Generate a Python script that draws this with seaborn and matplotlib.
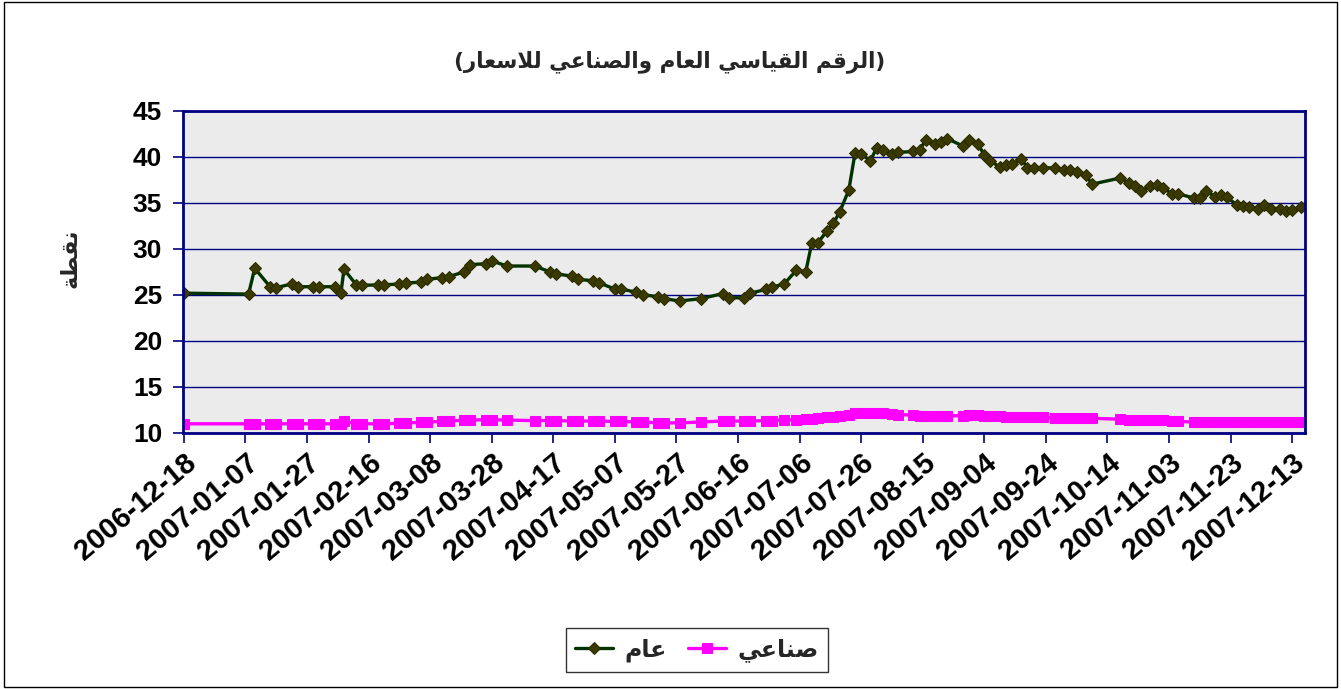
import numpy as np
import pandas as pd
import matplotlib
matplotlib.use("Agg")
import matplotlib.pyplot as plt
import matplotlib.dates as mdates
from matplotlib.patches import Rectangle
import seaborn as sns

# days since 2006-12-18 for each session
days = [0, 21, 23, 28, 30, 35, 37, 42, 44, 49, 51, 52, 56, 58, 63, 65, 70, 72,
        77, 79, 84, 86, 91, 93, 98, 100, 105, 114, 119, 121, 126, 128, 133, 135,
        140, 142, 147, 149, 154, 156, 161, 168, 175, 177, 182, 184, 189, 191,
        195, 199, 202, 204, 206, 209, 211, 213, 216, 218, 220, 223, 225, 227,
        230, 232, 237, 239, 241, 244, 246, 248, 253, 255, 258, 260, 262, 265,
        267, 269, 272, 274, 276, 279, 283, 286, 288, 290, 293, 295, 304, 307,
        309, 311, 314, 316, 318, 321, 323, 328, 330, 332, 335, 337, 339, 342,
        344, 346, 349, 351, 353, 356, 358, 360, 363]

general = [25.2, 25.1, 27.9, 25.9, 25.8, 26.2, 25.9, 25.9, 25.9, 25.9, 25.2, 27.8,
           26.1, 26.05, 26.1, 26.1, 26.2, 26.3, 26.4, 26.7, 26.9, 27.0, 27.5, 28.3,
           28.4, 28.7, 28.15, 28.15, 27.5, 27.3, 27.05, 26.7, 26.55, 26.3, 25.65,
           25.65, 25.3, 25.05, 24.8, 24.6, 24.35, 24.6, 25.15, 24.7, 24.7, 25.2,
           25.6, 25.85, 26.2, 27.7, 27.5, 30.7, 30.7, 32.0, 32.8, 34.0, 36.4, 40.4,
           40.3, 39.6, 40.95, 40.8, 40.3, 40.5, 40.6, 40.75, 41.85, 41.4, 41.6, 42.0,
           41.2, 41.9, 41.4, 40.2, 39.6, 38.9, 39.1, 39.2, 39.8, 38.85, 38.85, 38.85,
           38.8, 38.6, 38.6, 38.4, 38.05, 37.05, 37.7, 37.2, 36.9, 36.35, 36.8, 37.0,
           36.65, 36.0, 36.0, 35.55, 35.55, 36.35, 35.65, 35.9, 35.6, 34.8, 34.7,
           34.6, 34.4, 34.8, 34.4, 34.4, 34.15, 34.2, 34.55]

industrial = [11.0, 11.0, 11.0, 11.0, 11.0, 11.0, 11.0, 11.0, 11.0, 11.0, 11.0, 11.3,
              11.0, 11.0, 11.0, 11.0, 11.05, 11.1, 11.15, 11.2, 11.25, 11.3, 11.4, 11.4,
              11.45, 11.45, 11.4, 11.35, 11.35, 11.35, 11.3, 11.3, 11.3, 11.3, 11.25,
              11.25, 11.2, 11.2, 11.1, 11.1, 11.1, 11.2, 11.3, 11.3, 11.3, 11.3, 11.35,
              11.35, 11.4, 11.45, 11.5, 11.55, 11.6, 11.7, 11.75, 11.8, 11.95, 12.15,
              12.2, 12.2, 12.15, 12.15, 12.1, 12.0, 11.95, 11.9, 11.85, 11.85, 11.85,
              11.85, 11.9, 11.95, 11.95, 11.9, 11.85, 11.8, 11.75, 11.75, 11.75, 11.7,
              11.7, 11.7, 11.65, 11.6, 11.6, 11.6, 11.6, 11.6, 11.5, 11.45, 11.45, 11.4,
              11.45, 11.45, 11.4, 11.3, 11.25, 11.2, 11.2, 11.2, 11.2, 11.2, 11.2, 11.2,
              11.2, 11.2, 11.2, 11.15, 11.15, 11.15, 11.15, 11.15, 11.15]

title_text = "(الرقم القياسي العام والصناعي للاسعار)"
ylabel_text = "نقطة"
label_general = "عام"
label_industrial = "صناعي"
yticks = [10, 15, 20, 25, 30, 35, 40, 45]

# presentation forms: isolated, final, initial, medial
FORMS = {
    'ا': '\uFE8D\uFE8E', 'ر': '\uFEAD\uFEAE', 'و': '\uFEED\uFEEE',
    'ة': '\uFE93\uFE94', '\uFEFB': '\uFEFB\uFEFC',
    'ل': '\uFEDD\uFEDE\uFEDF\uFEE0', 'ق': '\uFED5\uFED6\uFED7\uFED8',
    'م': '\uFEE1\uFEE2\uFEE3\uFEE4', 'ي': '\uFEF1\uFEF2\uFEF3\uFEF4',
    'س': '\uFEB1\uFEB2\uFEB3\uFEB4', 'ع': '\uFEC9\uFECA\uFECB\uFECC',
    'ص': '\uFEB9\uFEBA\uFEBB\uFEBC', 'ن': '\uFEE5\uFEE6\uFEE7\uFEE8',
    'ط': '\uFEC1\uFEC2\uFEC3\uFEC4',
}


def shape(text):
    """join arabic letters and put them in visual (left to right) order"""
    text = text.replace('لا', '\uFEFB')
    out = []
    for i, ch in enumerate(text):
        f = FORMS.get(ch)
        if f is None:
            out.append(ch)
            continue
        prev = text[i - 1] if i > 0 else ''
        nxt = text[i + 1] if i + 1 < len(text) else ''
        join_prev = len(FORMS.get(prev, '')) == 4
        join_next = len(f) == 4 and nxt in FORMS
        if join_prev:
            out.append(f[3] if join_next else f[1])
        else:
            out.append(f[2] if join_next else f[0])
    vis = ''.join(reversed(out))
    return vis.translate(str.maketrans('()', ')('))


start = pd.Timestamp('2006-12-18')
df = pd.DataFrame({
    'date': start + pd.to_timedelta(days, unit='D'),
    'general': general,
    'industrial': industrial,
})

sns.set_style('white')
plt.rcParams['font.family'] = ['Liberation Sans', 'DejaVu Sans']
arab = ['DejaVu Sans']
navy = '#000080'

fig = plt.figure(figsize=(13.41, 6.89), dpi=100)
ax = fig.add_axes([183 / 1341, 1 - 433 / 689, (1305 - 183) / 1341, (433 - 111) / 689])
ax.set_facecolor('#ebebeb')

sns.lineplot(data=df, x='date', y='general', ax=ax, color='#003300', linewidth=2.4,
             marker='D', markersize=6, markerfacecolor='#3a3a00',
             markeredgecolor='#2a2a00', label=shape(label_general))
sns.lineplot(data=df, x='date', y='industrial', ax=ax, color='#ff00ff', linewidth=2.4,
             marker='s', markersize=7.5, markerfacecolor='#ff00ff',
             markeredgecolor='#ff00ff', label=shape(label_industrial))

ax.set_ylim(10, 45)
ax.set_yticks(yticks)
ax.set_xlim(start - pd.Timedelta(days=0.3), start + pd.Timedelta(days=364.2))
ticks = pd.date_range(start, periods=19, freq='20D')
ax.set_xticks(ticks)
ax.xaxis.set_major_formatter(mdates.DateFormatter('%Y-%m-%d'))
ax.grid(axis='y', color=navy, linewidth=1)
ax.grid(axis='x', visible=False)
ax.set_axisbelow(True)
for s in ax.spines.values():
    s.set_color(navy)
    s.set_linewidth(2)
ax.tick_params(axis='both', colors=navy, length=7, width=1.2, direction='out',
               bottom=True, left=True)
ax.tick_params(axis='y', labelsize=19, labelcolor='black', pad=8)
ax.tick_params(axis='x', labelsize=21, labelcolor='black', pad=4)
for lab in ax.get_yticklabels():
    lab.set_fontweight('bold')
for lab in ax.get_xticklabels():
    lab.set_fontweight('bold')
    lab.set_rotation(40)
    lab.set_ha('right')
    lab.set_va('top')
    lab.set_rotation_mode('anchor')
ax.set_xlabel('')
ax.set_ylabel('')

ax.get_legend().remove()
handles, labels = ax.get_legend_handles_labels()
leg = fig.legend(handles, labels, loc='center', bbox_to_anchor=(697 / 1341, 1 - 650 / 689),
                 ncol=2, frameon=True, fancybox=False, edgecolor='black',
                 prop={'family': arab, 'weight': 'bold', 'size': 17},
                 handlelength=1.6, handletextpad=0.5, columnspacing=0.9,
                 borderpad=0.4, borderaxespad=0)
leg.get_frame().set_linewidth(1)

fig.text(670 / 1341, 1 - 62 / 689, shape(title_text), ha='center', va='center',
         fontsize=15.5, fontweight='bold', family=arab)
fig.text(70 / 1341, 1 - 258 / 689, shape(ylabel_text), ha='center', va='center',
         rotation=90, fontsize=16, fontweight='bold', family=arab)

fig.patches.append(Rectangle((0.003, 0.003), 0.994, 0.994, transform=fig.transFigure,
                             fill=False, edgecolor='black', linewidth=1))

fig.savefig('out.png', dpi=100)
